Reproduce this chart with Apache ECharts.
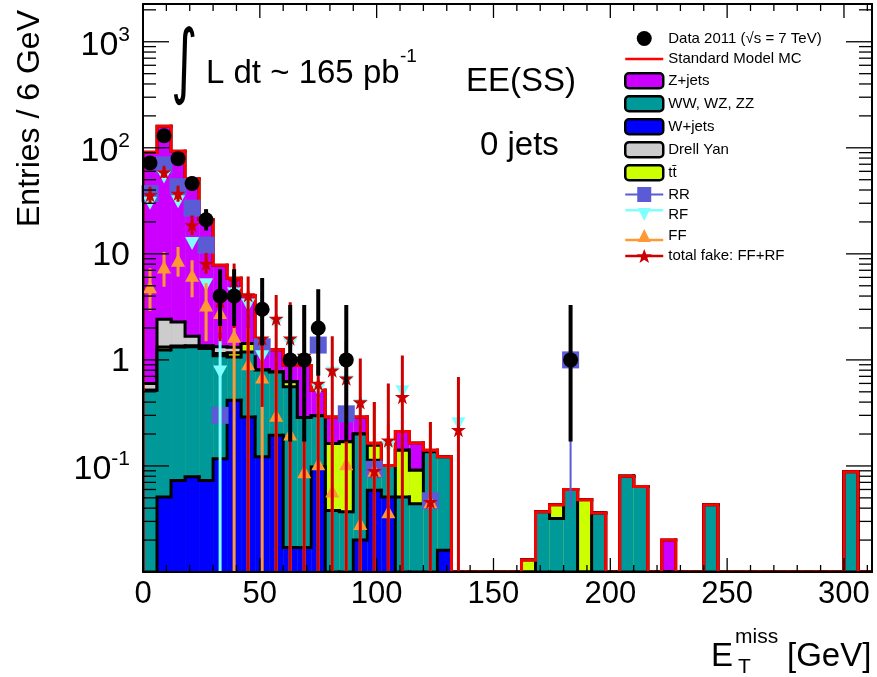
<!DOCTYPE html>
<html>
<head>
<meta charset="utf-8">
<title>EE(SS) 0 jets - missing ET</title>
<script src="https://cdn.jsdelivr.net/npm/echarts@6.0.0/dist/echarts.min.js"></script>
<style>
html,body{margin:0;padding:0;background:#ffffff;}
#chart{width:877px;height:677px;}
</style>
</head>
<body>
<div id="chart"></div>
<script>
// ---------------- data ----------------
const binWidth = 6;
const binStarts = [0,6,12,18,24,30,36,42,48,54,60,66,72,78,84,90,96,102,108,114,
  120,126,132,138,144,150,156,162,168,174,180,186,192,198,204,210,216,222,228,234,
  240,246,252,258,264,270,276,282,288,294,300,306];
const xTickValues = [0, 50, 100, 150, 200, 250, 300];
const yTickExponents = [-1, 0, 1, 2, 3];

// stacked Monte Carlo components (entries per bin)
const wJets = [
  0, 0.051, 0.073, 0.079, 0.073, 0.117, 0.417, 0.29, 0.122, 0.195,
  0.017, 0.017, 0.098, 0, 0, 0.02, 0.059, 0.051, 0, 0,
  0, 0.016, 0, 0, 0, 0, 0, 0, 0, 0,
  0, 0, 0, 0, 0, 0, 0, 0, 0, 0,
  0, 0, 0, 0, 0, 0, 0, 0, 0, 0,
  0, 0];
const diboson = [
  0.518, 1.19, 1.25, 1.25, 1.21, 0.98, 0.65, 0.9, 0.68, 0.575,
  0.54, 0.27, 0.2, 0.038, 0.037, 0.18, 0.054, 0.05, 0.051, 0.044,
  0.136, 0.106, 0, 0, 0, 0, 0, 0, 0.037, 0.032,
  0.06, 0, 0.036, 0, 0.08, 0.064, 0, 0, 0, 0,
  0.043, 0, 0, 0, 0, 0, 0, 0, 0, 0,
  0.088, 0];
const ttbar = [
  0, 0.08, 0.03, 0.03, 0.02, 0.05, 0.1, 0.24, 0, 0,
  0.064, 0, 0, 0.125, 0.132, 0, 0.044, 0, 0.09, 0.047,
  0, 0, 0, 0, 0, 0, 0, 0.013, 0, 0.011,
  0, 0.048, 0, 0, 0, 0, 0, 0, 0, 0,
  0, 0, 0, 0, 0, 0, 0, 0, 0, 0,
  0, 0];
const drellYan = [
  0.08, 1.1, 0.92, 0.31, 0.06, 0.18, 0.15, 0, 0, 0,
  0, 0, 0, 0, 0, 0, 0, 0, 0, 0,
  0, 0, 0, 0, 0, 0, 0, 0, 0, 0,
  0, 0, 0, 0, 0, 0, 0, 0, 0, 0,
  0, 0, 0, 0, 0, 0, 0, 0, 0, 0,
  0, 0];
const zJets = [
  90.4, 157.6, 90.7, 49, 19.6, 6.47, 4.57, 2.6, 0.45, 0.48,
  0.27, 0.6, 0.22, 0.127, 0.12, 0.09, 0.007, 0, 0.07, 0.074,
  0.005, 0, 0, 0, 0, 0, 0, 0, 0, 0,
  0, 0, 0, 0, 0, 0, 0, 0.02, 0, 0,
  0, 0, 0, 0, 0, 0, 0, 0, 0, 0,
  0, 0];

// data 2011 (counts) with asymmetric errors
const dataCounts = [
  72, 130, 79, 46, 21, 4, 4, 0, 3, 0,
  1, 1, 2, 0, 1, 0, 0, 0, 0, 0,
  0, 0, 0, 0, 0, 0, 0, 0, 0, 0,
  1, 0, 0, 0, 0, 0, 0, 0, 0, 0,
  0, 0, 0, 0, 0, 0, 0, 0, 0, 0,
  0, 0];
const dataLo = [
  63.8, 119, 70.1, 39.2, 16.6, 2.09, 2.09, null, 1.37, null,
  0.17, 0.17, 0.71, null, 0.17, null, null, null, null, null,
  null, null, null, null, null, null, null, null, null, null,
  0.17, null, null, null, null, null, null, null, null, null,
  null, null, null, null, null, null, null, null, null, null,
  null, null];
const dataHi = [
  81.5, 141.4, 88.9, 53.6, 26.4, 7.16, 7.16, null, 5.92, null,
  3.3, 3.3, 4.64, null, 3.3, null, null, null, null, null,
  null, null, null, null, null, null, null, null, null, null,
  3.3, null, null, null, null, null, null, null, null, null,
  null, null, null, null, null, null, null, null, null, null,
  null, null];

// fake-lepton estimates (0 in lo = error reaches below the axis)
const rrVals = [
  37, 69, 43, 27, 12.1, 0.30, 0, 0, 1.33, 0,
  0, 0, 1.38, 0, 0.31, 0, 0.093, 0, 0, 0,
  0.047, 0, 0, 0, 0, 0, 0, 0, 0, 0,
  1.0, 0, 0, 0, 0, 0, 0, 0, 0, 0,
  0, 0, 0, 0, 0, 0, 0, 0, 0, 0,
  0, 0];
const rrLo = [null,null,null,null,null,null,null,null,null,null,
  null,null,null,null,null,null,null,null,null,null,
  null,null,null,null,null,null,null,null,null,null,
  0.04,null,null,null,null,null,null,null,null,null,
  null,null,null,null,null,null,null,null,null,null,null,null];
const rrHi = [null,null,null,null,null,null,null,null,null,null,
  null,null,null,null,null,null,null,null,null,null,
  null,null,null,null,null,null,null,null,null,null,
  2.0,null,null,null,null,null,null,null,null,null,
  null,null,null,null,null,null,null,null,null,null,null,null];

const rfVals = [
  30, 53, 31, 12.5, 5.1, 0.77, 4.2, 3.3, 1.07, 2.2,
  1.4, 1.0, 0.52, 0.75, 0.62, 0.37, 0, 0.15, 0.5, 0,
  0, 0, 0.25, 0, 0, 0, 0, 0, 0, 0,
  0, 0, 0, 0, 0, 0, 0, 0, 0, 0,
  0, 0, 0, 0, 0, 0, 0, 0, 0, 0,
  0, 0];
const rfLo = [null,null,null,null,null,0,null,null,null,null,
  null,null,null,null,null,null,null,null,null,null,
  null,null,null,null,null,null,null,null,null,null,
  null,null,null,null,null,null,null,null,null,null,
  null,null,null,null,null,null,null,null,null,null,null,null];
const rfHi = [null,null,null,null,null,1.6,null,null,null,null,
  null,null,null,null,null,null,null,null,null,null,
  null,null,null,null,null,null,null,null,null,null,
  null,null,null,null,null,null,null,null,null,null,
  null,null,null,null,null,null,null,null,null,null,null,null];

const ffVals = [
  4.9, 7.5, 8.7, 6.3, 3.3, 2.8, 1.67, 0.92, 0.69, 0.30,
  0.20, 0.088, 0.105, 0.058, 0.105, 0.0286, 0.091, 0.037, 0, 0,
  0.046, 0, 0, 0, 0, 0, 0, 0, 0, 0,
  0, 0, 0, 0, 0, 0, 0, 0, 0, 0,
  0, 0, 0, 0, 0, 0, 0, 0, 0, 0,
  0, 0];
const ffLo = [
  2.9, 4.9, 6.1, 3.9, 1.5, 1.8, 0, 0, 0, 0,
  0, 0, 0, 0, 0, 0, 0, 0, null, null,
  0, null, null, null, null, null, null, null, null, null,
  null, null, null, null, null, null, null, null, null, null,
  null, null, null, null, null, null, null, null, null, null, null, null];
const ffHi = [
  7.3, 10.4, 11.6, 8.7, 5.3, 3.9, 2.05, 2.0, 1.5, 0.8,
  0.6, 0.35, 0.45, 0.3, 0.45, 0.2, 0.4, 0.25, null, null,
  0.26, null, null, null, null, null, null, null, null, null,
  null, null, null, null, null, null, null, null, null, null,
  null, null, null, null, null, null, null, null, null, null, null, null];

const fakeVals = [
  36, 59, 37, 18.7, 8.1, 3.6, 5.6, 4.1, 1.6, 2.46,
  1.6, 1.1, 0.6, 0.8, 0.67, 0.40, 0.09, 0.175, 0.45, 0,
  0.046, 0, 0.22, 0, 0, 0, 0, 0, 0, 0,
  0, 0, 0, 0, 0, 0, 0, 0, 0, 0,
  0, 0, 0, 0, 0, 0, 0, 0, 0, 0,
  0, 0];
const fakeLo = [
  30, 52, 31, 15, 6.5, 1.5, 2.0, 0, 0.36, 0,
  0, 0, 0, 0, 0, 0, 0, 0, 0, null,
  0, null, 0, null, null, null, null, null, null, null,
  null, null, null, null, null, null, null, null, null, null,
  null, null, null, null, null, null, null, null, null, null, null, null];
const fakeHi = [
  43, 67, 44, 23, 10.2, 6, 8.1, 6.1, 3.2, 4.1,
  3.5, 3.0, 2.5, 1.67, 1.5, 1.03, 0.4, 0.6, 1.1, null,
  0.26, null, 0.69, null, null, null, null, null, null, null,
  null, null, null, null, null, null, null, null, null, null,
  null, null, null, null, null, null, null, null, null, null, null, null];

// ---------------- chart ----------------
const yMin = 0.01, yMax = 2270, xMin = 0, xMax = 312;
const FONT = '"Liberation Sans", Arial, Helvetica, sans-serif';
const nBins = binStarts.length;

function addArrays(a, b) { return a.map((v, i) => v + b[i]); }
const cumW = wJets.slice();
const cumVV = addArrays(cumW, diboson);
const cumTT = addArrays(cumVV, ttbar);
const cumDY = addArrays(cumTT, drellYan);
const cumZ = addArrays(cumDY, zJets);

function stepData(vals) {
  return binStarts.map((s, i) => [s, s + binWidth, vals[i], i > 0 ? vals[i - 1] : 0, i === nBins - 1 ? 1 : 0]);
}
function makeStepRender(fill, stroke, lw) {
  return function (params, api) {
    const x0 = api.value(0), x1 = api.value(1), v = api.value(2), pv = api.value(3), last = api.value(4);
    const vv = v > yMin ? v : yMin, pvv = pv > yMin ? pv : yMin;
    const a = api.coord([x0, pvv]), b = api.coord([x0, vv]), c = api.coord([x1, vv]);
    const d = api.coord([x1, yMin]), e0 = api.coord([x0, yMin]);
    const children = [];
    if (fill && v > yMin) {
      children.push({ type: 'rect', shape: { x: b[0], y: b[1], width: c[0] - b[0], height: e0[1] - b[1] },
        style: { fill: fill, stroke: 'none' } });
    }
    const pts = [a, b, c];
    if (last) pts.push(d);
    children.push({ type: 'polyline', shape: { points: pts },
      style: { stroke: stroke, lineWidth: lw, fill: 'none', lineCap: 'square', lineJoin: 'miter' } });
    return { type: 'group', children: children };
  };
}
function pointData(vals) {
  const out = [];
  binStarts.forEach((s, i) => { if (vals[i] > 0) out.push([s + binWidth / 2, vals[i]]); });
  return out;
}
function errData(lo, hi) {
  const out = [];
  binStarts.forEach((s, i) => { if (lo[i] !== null && hi[i] !== null) out.push([s + binWidth / 2, lo[i], hi[i]]); });
  return out;
}
function makeErrRender(color, lw) {
  return function (params, api) {
    const x = api.value(0), lo = api.value(1), hi = api.value(2);
    const p1 = api.coord([x, lo > 0 ? lo : yMin / 100]);
    const p2 = api.coord([x, hi]);
    return { type: 'line', shape: { x1: p1[0], y1: p1[1], x2: p2[0], y2: p2[1] },
      style: { stroke: color, lineWidth: lw, lineCap: 'butt' } };
  };
}

// axis tick marks drawn ROOT-style inside the frame on all four sides
const tickData = [];
for (let v = 0; v <= xMax; v += 10) {
  const len = (v % 50 === 0) ? 14 : 7;
  tickData.push([v, yMin, 0, len]);
  tickData.push([v, yMax, 1, len]);
}
for (let e = -2; e <= 3; e++) {
  for (let m = 1; m <= 9; m++) {
    const v = m * Math.pow(10, e);
    if (v <= yMin || v >= yMax) continue;
    const len = (m === 1) ? 26 : 13;
    tickData.push([xMin, v, 2, len]);
    tickData.push([xMax, v, 3, len]);
  }
}
function tickRender(params, api) {
  const p = api.coord([api.value(0), api.value(1)]);
  const dir = api.value(2), len = api.value(3);
  let x2 = p[0], y2 = p[1];
  if (dir === 0) y2 -= len; else if (dir === 1) y2 += len; else if (dir === 2) x2 += len; else x2 -= len;
  return { type: 'line', shape: { x1: p[0], y1: p[1], x2: x2, y2: y2 }, style: { stroke: '#000', lineWidth: 1.3 } };
}

const starPath = 'path://M50,0 L61,35 L98,35 L68,57 L79,91 L50,70 L21,91 L32,57 L2,35 L39,35 Z';
const corner = 'M0,0h0.05v0.05h-0.05z M37.95,14.95h0.05v0.05h-0.05z ';
const iconLine = 'path://' + corner + 'M0,6.2h38v2.6h-38z';
const iconRR = 'path://' + corner + 'M0,6.5h38v2h-38z M12,0h14v15h-14z';
const iconRF = 'path://' + corner + 'M0,1.5h38v2.5h-38z M12.5,0.5h13l-6.5,13z';
const iconFF = 'path://' + corner + 'M0,10.8h38v2.5h-38z M19,1l6.5,13h-13z';
const iconStar = 'path://' + corner + 'M0,6.3h38v2.4h-38z M19,0.5l2,5.3h5.6l-4.5,3.4l1.7,5.3l-4.8,-3.3l-4.8,3.3l1.7,-5.3l-4.5,-3.4h5.6z';

const NAME_DATA = 'Data 2011 (\u221As = 7 TeV)';
const NAME_SM = 'Standard Model MC';
const NAME_TT = 't\u0074\u0304';
const boxStyle = { borderColor: '#000', borderWidth: 2.5 };

const chart = echarts.init(document.getElementById('chart'), null, { renderer: 'canvas', width: 877, height: 677, devicePixelRatio: 1 });

const option = {
  animation: false,
  backgroundColor: '#ffffff',
  textStyle: { fontFamily: FONT },
  grid: { left: 143, right: 5, top: 4, bottom: 105, containLabel: false, outerBoundsMode: 'none' },
  legend: {
    orient: 'vertical', left: 624, top: 31, padding: 0,
    itemWidth: 38, itemHeight: 15, itemGap: 5.5,
    selectedMode: false,
    textStyle: { fontSize: 15, fontFamily: FONT, color: '#000' },
    data: [
      { name: NAME_DATA, icon: 'circle' },
      { name: NAME_SM, icon: iconLine },
      { name: 'Z+jets', icon: 'roundRect', itemStyle: boxStyle },
      { name: 'WW, WZ, ZZ', icon: 'roundRect', itemStyle: boxStyle },
      { name: 'W+jets', icon: 'roundRect', itemStyle: boxStyle },
      { name: 'Drell Yan', icon: 'roundRect', itemStyle: boxStyle },
      { name: NAME_TT, icon: 'roundRect', itemStyle: boxStyle },
      { name: 'RR', icon: iconRR },
      { name: 'RF', icon: iconRF },
      { name: 'FF', icon: iconFF },
      { name: 'total fake: FF+RF', icon: iconStar }
    ]
  },
  xAxis: [
    { type: 'value', min: xMin, max: xMax, interval: 50, position: 'bottom', z: 9,
      axisLine: { show: true, onZero: false, lineStyle: { color: '#000', width: 2 } },
      axisTick: { show: false }, splitLine: { show: false },
      axisLabel: { show: true, fontSize: 31, fontFamily: FONT, color: '#000', margin: 7, showMaxLabel: false,
        formatter: function (v) { return xTickValues.indexOf(v) >= 0 ? String(v) : ''; } } },
    { type: 'value', min: xMin, max: xMax, interval: 50, position: 'top', z: 9,
      axisLine: { show: true, onZero: false, lineStyle: { color: '#000', width: 2 } },
      axisTick: { show: false }, splitLine: { show: false }, axisLabel: { show: false } }
  ],
  yAxis: [
    { type: 'log', logBase: 10, min: yMin, max: yMax, position: 'left', z: 9,
      axisLine: { show: true, onZero: false, lineStyle: { color: '#000', width: 2 } },
      axisTick: { show: false }, splitLine: { show: false },
      axisLabel: { show: true, margin: 13, showMinLabel: false, showMaxLabel: false,
        formatter: function (v) {
          const e = Math.round(Math.log10(v));
          if (yTickExponents.indexOf(e) < 0) return '';
          if (e === 0) return '{b|1}';
          if (e === 1) return '{b|10}';
          return '{b|10}{s|' + e + '}';
        },
        rich: {
          b: { fontSize: 34, fontFamily: FONT, color: '#000', verticalAlign: 'bottom', padding: [0, 0, -4, 0] },
          s: { fontSize: 21, fontFamily: FONT, color: '#000', verticalAlign: 'bottom', padding: [0, 0, 13, 0] }
        } } },
    { type: 'log', logBase: 10, min: yMin, max: yMax, position: 'right', z: 9,
      axisLine: { show: true, onZero: false, lineStyle: { color: '#000', width: 2 } },
      axisTick: { show: false }, splitLine: { show: false }, axisLabel: { show: false } }
  ],
  series: [
    { type: 'custom', name: 'Z+jets', z: 2, clip: true, itemStyle: { color: '#cc00ff' },
      encode: { x: [0, 1], y: 2 }, data: stepData(cumZ), renderItem: makeStepRender('#cc00ff', '#000', 3) },
    { type: 'custom', name: 'Drell Yan', z: 2, clip: true, itemStyle: { color: '#cccccc' },
      encode: { x: [0, 1], y: 2 }, data: stepData(cumDY), renderItem: makeStepRender('#cccccc', '#000', 3) },
    { type: 'custom', name: NAME_TT, z: 2, clip: true, itemStyle: { color: '#ccff00' },
      encode: { x: [0, 1], y: 2 }, data: stepData(cumTT), renderItem: makeStepRender('#ccff00', '#000', 3) },
    { type: 'custom', name: 'WW, WZ, ZZ', z: 2, clip: true, itemStyle: { color: '#009999' },
      encode: { x: [0, 1], y: 2 }, data: stepData(cumVV), renderItem: makeStepRender('#009999', '#000', 3) },
    { type: 'custom', name: 'W+jets', z: 2, clip: true, itemStyle: { color: '#0000ff' },
      encode: { x: [0, 1], y: 2 }, data: stepData(cumW), renderItem: makeStepRender('#0000ff', '#000', 3) },
    { type: 'custom', name: NAME_SM, z: 3, clip: true, itemStyle: { color: '#ff0000' },
      encode: { x: [0, 1], y: 2 }, data: stepData(cumZ), renderItem: makeStepRender(null, '#ff0000', 3) },

    { type: 'custom', name: 'RR err', z: 4, clip: true, itemStyle: { color: '#5b5bd6' },
      encode: { x: 0, y: [1, 2] }, data: errData(rrLo, rrHi), renderItem: makeErrRender('#5b5bd6', 2) },
    { type: 'scatter', name: 'RR', z: 4, symbol: 'rect', symbolSize: 17, itemStyle: { color: '#5b5bd6', opacity: 1 },
      data: pointData(rrVals) },

    { type: 'custom', name: 'RF err', z: 5, clip: true, itemStyle: { color: '#80ffff' },
      encode: { x: 0, y: [1, 2] }, data: errData(rfLo, rfHi), renderItem: makeErrRender('#80ffff', 3) },
    { type: 'scatter', name: 'RF', z: 5, symbol: 'triangle', symbolRotate: 180, symbolSize: [14, 13],
      itemStyle: { color: '#80ffff', opacity: 1 }, data: pointData(rfVals) },

    { type: 'custom', name: 'FF err', z: 6, clip: true, itemStyle: { color: '#ff9933' },
      encode: { x: 0, y: [1, 2] }, data: errData(ffLo, ffHi), renderItem: makeErrRender('#ff9933', 3) },
    { type: 'scatter', name: 'FF', z: 6, symbol: 'triangle', symbolSize: [14, 13],
      itemStyle: { color: '#ff9933', opacity: 1 }, data: pointData(ffVals) },

    { type: 'custom', name: 'fake err', z: 7, clip: true, itemStyle: { color: '#cc0000' },
      encode: { x: 0, y: [1, 2] }, data: errData(fakeLo, fakeHi), renderItem: makeErrRender('#cc0000', 3) },
    { type: 'scatter', name: 'total fake: FF+RF', z: 7, symbol: starPath, symbolSize: 15,
      itemStyle: { color: '#cc0000', opacity: 1 }, data: pointData(fakeVals) },

    { type: 'custom', name: 'data err', z: 8, clip: true, itemStyle: { color: '#000' },
      encode: { x: 0, y: [1, 2] }, data: errData(dataLo, dataHi), renderItem: makeErrRender('#000', 4) },
    { type: 'scatter', name: NAME_DATA, z: 8, symbol: 'circle', symbolSize: 15,
      itemStyle: { color: '#000', opacity: 1 }, data: pointData(dataCounts) },

    { type: 'custom', name: 'ticks', z: 10, clip: false, silent: true, itemStyle: { color: '#000' },
      encode: { x: 0, y: 1 }, data: tickData, renderItem: tickRender }
  ],
  graphic: [
    { type: 'text', x: 171, y: 67, scaleX: 0.62, z: 20, style: { text: '\u222B', fontSize: 82, fontFamily: '"DejaVu Sans", sans-serif', fill: '#000', textAlign: 'left', textVerticalAlign: 'middle' } },
    { type: 'text', x: 206, y: 74, z: 20, style: { text: 'L dt ~ 165 pb', fontSize: 33, fontFamily: FONT, fill: '#000', textAlign: 'left', textVerticalAlign: 'middle' } },
    { type: 'text', x: 400, y: 57, z: 20, style: { text: '-1', fontSize: 19, fontFamily: FONT, fill: '#000', textAlign: 'left', textVerticalAlign: 'middle' } },
    { type: 'text', x: 466, y: 82, z: 20, style: { text: 'EE(SS)', fontSize: 33, fontFamily: FONT, fill: '#000', textAlign: 'left', textVerticalAlign: 'middle' } },
    { type: 'text', x: 480, y: 146, z: 20, style: { text: '0 jets', fontSize: 33, fontFamily: FONT, fill: '#000', textAlign: 'left', textVerticalAlign: 'middle' } },
    { type: 'text', x: 30, y: 10, rotation: Math.PI / 2, z: 20, style: { text: 'Entries / 6 GeV', fontSize: 32, fontFamily: FONT, fill: '#000', textAlign: 'right', textVerticalAlign: 'middle' } },
    { type: 'text', x: 711, y: 657, z: 20, style: { text: 'E', fontSize: 33, fontFamily: FONT, fill: '#000', textAlign: 'left', textVerticalAlign: 'middle' } },
    { type: 'text', x: 735, y: 637, z: 20, style: { text: 'miss', fontSize: 21, fontFamily: FONT, fill: '#000', textAlign: 'left', textVerticalAlign: 'middle' } },
    { type: 'text', x: 738, y: 667, z: 20, style: { text: 'T', fontSize: 21, fontFamily: FONT, fill: '#000', textAlign: 'left', textVerticalAlign: 'middle' } },
    { type: 'text', x: 787, y: 657, z: 20, style: { text: '[GeV]', fontSize: 33, fontFamily: FONT, fill: '#000', textAlign: 'left', textVerticalAlign: 'middle' } }
  ]
};
chart.setOption(option);
</script>
</body>
</html>
